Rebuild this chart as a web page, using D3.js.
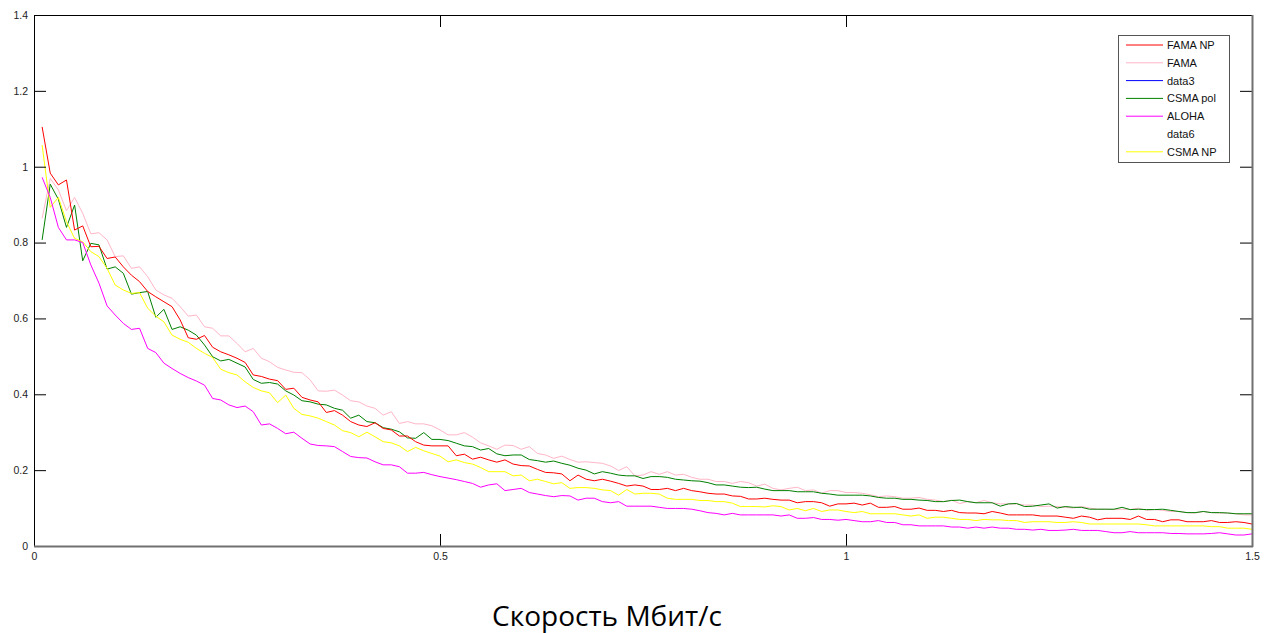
<!DOCTYPE html>
<html>
<head>
<meta charset="utf-8">
<script src="https://cdn.jsdelivr.net/npm/d3@7"></script>
<style>
  body { margin: 0; background: #fff; }
  .tick text { font-family: "Liberation Sans", Arial, sans-serif; font-size: 10.5px; fill: #222; }
</style>
</head>
<body>
<script>
// x grid: speed 0.01 .. 1.50 Mbit/s
var speeds = d3.range(1, 151).map(function(i) { return i / 100; });

var famaNP = [1.105, 0.983, 0.952, 0.965, 0.833, 0.844, 0.789, 0.790, 0.758, 0.762, 0.736, 0.714, 0.697, 0.671, 0.657, 0.644, 0.631, 0.596, 0.549, 0.545, 0.555, 0.524, 0.512, 0.504, 0.495, 0.484,
  0.451, 0.447, 0.440, 0.436, 0.413, 0.416, 0.392, 0.385, 0.380, 0.352, 0.357, 0.345, 0.328, 0.319, 0.315, 0.325, 0.310, 0.306, 0.290, 0.290, 0.275, 0.266, 0.264, 0.264, 0.264, 0.238, 0.242,
  0.229, 0.234, 0.227, 0.221, 0.227, 0.216, 0.212, 0.211, 0.202, 0.194, 0.193, 0.190, 0.172, 0.187, 0.176, 0.172, 0.176, 0.171, 0.165, 0.158, 0.161, 0.158, 0.149, 0.149, 0.152, 0.146, 0.152, 0.146, 0.143, 0.139, 0.137, 0.137, 0.132, 0.131, 0.124, 0.124, 0.126, 0.123, 0.121, 0.121, 0.114, 0.117, 0.117, 0.114, 0.105, 0.111, 0.111,
  0.113, 0.108, 0.113, 0.102, 0.102, 0.104, 0.097, 0.097, 0.100, 0.094, 0.094, 0.091, 0.094, 0.088, 0.087, 0.087, 0.085, 0.091, 0.087, 0.082, 0.082, 0.082, 0.082, 0.079, 0.079, 0.079, 0.076, 0.073, 0.079, 0.076, 0.069, 0.073, 0.073, 0.073, 0.070, 0.079, 0.070, 0.070, 0.064, 0.069, 0.069, 0.064, 0.064, 0.064, 0.067, 0.062, 0.062, 0.064, 0.062, 0.058];

var fama = [0.864, 0.969, 0.939, 0.884, 0.919, 0.877, 0.823, 0.826, 0.807, 0.763, 0.765, 0.732, 0.736, 0.710, 0.675, 0.662, 0.653, 0.631, 0.606, 0.609, 0.578, 0.574, 0.554, 0.554, 0.534, 0.512,
  0.521, 0.495, 0.486, 0.471, 0.464, 0.458, 0.457, 0.438, 0.409, 0.408, 0.411, 0.398, 0.383, 0.380, 0.369, 0.363, 0.345, 0.354, 0.323, 0.328, 0.322, 0.322, 0.317, 0.306, 0.293, 0.293, 0.299,
  0.287, 0.272, 0.264, 0.255, 0.266, 0.265, 0.255, 0.262, 0.244, 0.240, 0.231, 0.237, 0.228, 0.221, 0.222, 0.220, 0.218, 0.211, 0.199, 0.209, 0.185, 0.187, 0.196, 0.189, 0.196, 0.187, 0.189, 0.181, 0.176, 0.176, 0.170, 0.170, 0.165, 0.170, 0.167, 0.158, 0.163, 0.152, 0.148, 0.152, 0.155, 0.146, 0.148, 0.139, 0.146, 0.146, 0.141,
  0.141, 0.139, 0.135, 0.130, 0.132, 0.130, 0.126, 0.126, 0.128, 0.123, 0.121, 0.117, 0.121, 0.112, 0.117, 0.114, 0.120, 0.114, 0.111, 0.111, 0.111, 0.108, 0.108, 0.104, 0.105, 0.104, 0.102, 0.100, 0.104, 0.100, 0.097, 0.097, 0.096, 0.097, 0.096, 0.100, 0.094, 0.096, 0.094, 0.091, 0.091, 0.088, 0.087, 0.091, 0.088, 0.087, 0.087, 0.085, 0.082, 0.082];

var csmaPol = [0.807, 0.954, 0.914, 0.840, 0.899, 0.752, 0.798, 0.794, 0.730, 0.736, 0.719, 0.664, 0.668, 0.671, 0.603, 0.624, 0.571, 0.578, 0.569, 0.556, 0.530, 0.499, 0.488, 0.492, 0.482, 0.472,
  0.439, 0.429, 0.431, 0.427, 0.409, 0.398, 0.383, 0.380, 0.374, 0.372, 0.363, 0.358, 0.337, 0.345, 0.328, 0.325, 0.312, 0.308, 0.301, 0.285, 0.284, 0.299, 0.281, 0.281, 0.278, 0.271, 0.264,
  0.262, 0.253, 0.257, 0.243, 0.238, 0.240, 0.240, 0.228, 0.225, 0.221, 0.224, 0.218, 0.213, 0.205, 0.200, 0.190, 0.196, 0.192, 0.187, 0.185, 0.185, 0.178, 0.183, 0.183, 0.181, 0.176, 0.174, 0.172, 0.171, 0.167, 0.161, 0.161, 0.158, 0.155, 0.154, 0.155, 0.150, 0.146, 0.146, 0.146, 0.143, 0.143, 0.143, 0.139, 0.137, 0.134, 0.134,
  0.134, 0.134, 0.132, 0.128, 0.126, 0.126, 0.123, 0.123, 0.121, 0.120, 0.117, 0.117, 0.120, 0.121, 0.117, 0.114, 0.114, 0.114, 0.105, 0.111, 0.112, 0.104, 0.105, 0.108, 0.111, 0.100, 0.104, 0.102, 0.102, 0.097, 0.097, 0.097, 0.097, 0.102, 0.096, 0.097, 0.096, 0.096, 0.097, 0.094, 0.091, 0.088, 0.088, 0.091, 0.088, 0.088, 0.087, 0.085, 0.085, 0.085];

var aloha = [0.972, 0.919, 0.840, 0.807, 0.807, 0.800, 0.741, 0.693, 0.633, 0.609, 0.587, 0.571, 0.574, 0.521, 0.510, 0.482, 0.468, 0.455, 0.444, 0.435, 0.424, 0.389, 0.385, 0.372, 0.365, 0.369,
  0.354, 0.319, 0.322, 0.310, 0.296, 0.300, 0.284, 0.269, 0.265, 0.264, 0.262, 0.249, 0.236, 0.233, 0.232, 0.222, 0.214, 0.214, 0.209, 0.192, 0.192, 0.194, 0.188, 0.183, 0.179, 0.175, 0.170,
  0.165, 0.155, 0.161, 0.164, 0.146, 0.149, 0.152, 0.141, 0.137, 0.133, 0.130, 0.133, 0.132, 0.121, 0.126, 0.126, 0.117, 0.114, 0.117, 0.105, 0.105, 0.105, 0.105, 0.102, 0.099, 0.099, 0.099, 0.097, 0.093, 0.088, 0.086, 0.082, 0.086, 0.082, 0.082, 0.082, 0.082, 0.082, 0.079, 0.082, 0.073, 0.073, 0.075, 0.070, 0.070, 0.068, 0.070,
  0.067, 0.064, 0.064, 0.067, 0.062, 0.062, 0.056, 0.056, 0.053, 0.053, 0.053, 0.053, 0.050, 0.050, 0.047, 0.050, 0.047, 0.050, 0.047, 0.047, 0.044, 0.044, 0.042, 0.044, 0.041, 0.041, 0.042, 0.044, 0.041, 0.041, 0.041, 0.038, 0.035, 0.035, 0.038, 0.035, 0.035, 0.035, 0.035, 0.033, 0.033, 0.032, 0.032, 0.032, 0.033, 0.035, 0.032, 0.029, 0.029, 0.032];

var csmaNP = [1.057, 0.893, 0.919, 0.855, 0.811, 0.802, 0.776, 0.763, 0.732, 0.688, 0.675, 0.666, 0.668, 0.627, 0.606, 0.591, 0.556, 0.545, 0.537, 0.521, 0.508, 0.497, 0.466, 0.457, 0.451, 0.433,
  0.418, 0.409, 0.404, 0.378, 0.398, 0.363, 0.347, 0.343, 0.337, 0.328, 0.319, 0.304, 0.299, 0.288, 0.300, 0.288, 0.275, 0.272, 0.264, 0.249, 0.260, 0.251, 0.244, 0.237, 0.222, 0.227, 0.220,
  0.216, 0.207, 0.196, 0.196, 0.196, 0.185, 0.187, 0.172, 0.176, 0.170, 0.164, 0.167, 0.152, 0.154, 0.154, 0.152, 0.148, 0.146, 0.134, 0.149, 0.137, 0.139, 0.139, 0.137, 0.126, 0.123, 0.123, 0.123, 0.120, 0.120, 0.117, 0.117, 0.113, 0.104, 0.104, 0.104, 0.103, 0.106, 0.104, 0.095, 0.099, 0.093, 0.099, 0.091, 0.095, 0.095, 0.091,
  0.088, 0.091, 0.085, 0.085, 0.085, 0.085, 0.082, 0.079, 0.082, 0.073, 0.076, 0.076, 0.073, 0.070, 0.070, 0.067, 0.070, 0.069, 0.069, 0.067, 0.067, 0.062, 0.064, 0.064, 0.064, 0.062, 0.062, 0.064, 0.062, 0.058, 0.058, 0.058, 0.058, 0.058, 0.058, 0.058, 0.056, 0.053, 0.053, 0.053, 0.053, 0.053, 0.053, 0.053, 0.051, 0.051, 0.047, 0.047, 0.047, 0.044];

var legendNames = ["FAMA NP", "FAMA", "data3", "CSMA pol", "ALOHA", "data6", "CSMA NP"];
var legendColors = ["#ff0000", "#ffb6c8", "#0000ff", "#008000", "#ff00ff", "none", "#ffff00"];

var xTicks = [0, 0.5, 1, 1.5];
var yTicks = [0, 0.2, 0.4, 0.6, 0.8, 1, 1.2, 1.4];

var margin = {top: 15, right: 20, bottom: 87, left: 34}
  , width = 1218
  , height = 531;

var xScale = d3.scaleLinear().domain([0, 1.5]).range([0, width]);
var yScale = d3.scaleLinear().domain([0, 1.4]).range([height, 0]);

var svg = d3.select("body").append("svg")
    .attr("width", 1272)
    .attr("height", 633)
  .append("g")
    .attr("transform", "translate(" + margin.left + "," + margin.top + ")");

// draw order: pink under, then others
var series = [
  {values: fama, color: "#ffb6c8"},
  {values: csmaPol, color: "#008000"},
  {values: famaNP, color: "#ff0000"},
  {values: csmaNP, color: "#ffff00"},
  {values: aloha, color: "#ff00ff"}
];

var line = d3.line()
    .x(function(d, i) { return xScale(speeds[i]); })
    .y(function(d) { return yScale(d); });

series.forEach(function(s) {
  svg.append("path")
    .attr("fill", "none")
    .attr("stroke", s.color)
    .attr("stroke-width", 1)
    .attr("d", line(s.values));
});

// axes, ticks pointing inward like matlab
svg.append("g")
    .attr("class", "x axis")
    .attr("transform", "translate(0," + height + ")")
    .call(d3.axisBottom(xScale).tickValues(xTicks).tickSizeInner(-12).tickSizeOuter(0).tickPadding(5).tickFormat(d3.format("")));

svg.append("g")
    .attr("class", "x axis top")
    .call(d3.axisTop(xScale).tickValues(xTicks).tickSizeInner(-12).tickSizeOuter(0).tickFormat(""));

svg.append("g")
    .attr("class", "y axis")
    .call(d3.axisLeft(yScale).tickValues(yTicks).tickSizeInner(-12).tickSizeOuter(0).tickPadding(6).tickFormat(d3.format("")));

svg.append("g")
    .attr("class", "y axis right")
    .attr("transform", "translate(" + width + ",0)")
    .call(d3.axisRight(yScale).tickValues(yTicks).tickSizeInner(-12).tickSizeOuter(0).tickFormat(""));

svg.selectAll(".axis .domain").attr("stroke", "#000");
svg.selectAll(".axis .tick line").attr("stroke", "#000");
svg.selectAll(".x.axis text").attr("dy", "0.9em");

// gray bottom and right borders
svg.append("line").attr("x1", 0).attr("x2", width + 1).attr("y1", height + 0.5).attr("y2", height + 0.5)
    .attr("stroke", "#707070").attr("stroke-width", 2);
svg.append("line").attr("x1", width + 0.5).attr("x2", width + 0.5).attr("y1", 0).attr("y2", height + 1)
    .attr("stroke", "#707070").attr("stroke-width", 2);

// legend
var legend = svg.append("g").attr("transform", "translate(" + (1118 - margin.left) + "," + (35 - margin.top) + ")");
legend.append("rect")
    .attr("x", 0.5).attr("y", 0.5)
    .attr("width", 111).attr("height", 127)
    .attr("fill", "#fff").attr("stroke", "#555");

legendNames.forEach(function(name, i) {
  var yy = 10 + i * 17.8;
  if (legendColors[i] != "none") {
    legend.append("line")
      .attr("x1", 8).attr("x2", 45)
      .attr("y1", yy).attr("y2", yy)
      .attr("stroke", legendColors[i]);
  }
  legend.append("text")
    .attr("x", 49).attr("y", yy + 4)
    .style("font-family", "'Liberation Sans', Arial, sans-serif")
    .style("font-size", "11px")
    .attr("fill", "#111")
    .text(name);
});

// x title
svg.append("text")
    .attr("transform", "translate(" + (607 - margin.left) + "," + (626 - margin.top) + ")")
    .style("text-anchor", "middle")
    .style("font-family", "'Open Sans', sans-serif")
    .style("font-size", "28px")
    .attr("fill", "#000")
    .text("Скорость Мбит/с");
</script>
</body>
</html>
